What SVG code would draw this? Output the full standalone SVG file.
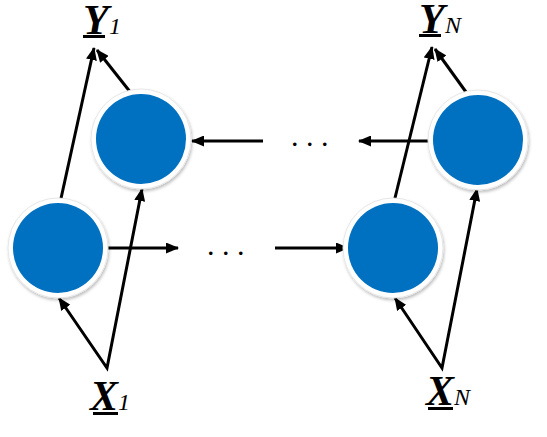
<svg xmlns="http://www.w3.org/2000/svg" width="547" height="437" viewBox="0 0 547 437">
<style>
.ring{fill:#ffffff;stroke:#e6e6e6;stroke-width:1;filter:url(#sh)}
.core{fill:#0070C0}
.ln{stroke:#000;stroke-width:3;fill:none;stroke-linejoin:miter}
.main{font-family:"Liberation Serif",serif;font-style:italic;font-weight:bold;font-size:42px;fill:#000}
.sub{font-family:"Liberation Serif",serif;font-style:italic;font-size:24px;fill:#000}
.dots{font-family:"Liberation Serif",serif;font-size:30px;fill:#000}
</style>
<defs>
<filter id="sh" x="-20%" y="-20%" width="140%" height="140%">
<feDropShadow dx="1" dy="2" stdDeviation="1.5" flood-color="#000" flood-opacity="0.25"/>
</filter>
<marker id="ah" viewBox="0 0 13 11" refX="12" refY="5.5" markerWidth="13" markerHeight="11" markerUnits="userSpaceOnUse" orient="auto-start-reverse">
<path d="M0,0 L13,5.5 L0,11 z" fill="#000"/>
</marker>
</defs>
<g id="connectors">
<line class="ln" x1="60" y1="203" x2="94" y2="48" marker-end="url(#ah)"/>
<line class="ln" x1="131" y1="93" x2="97" y2="50" marker-end="url(#ah)"/>
<line class="ln" x1="394" y1="202" x2="432" y2="47" marker-end="url(#ah)"/>
<line class="ln" x1="466" y1="92" x2="435" y2="49" marker-end="url(#ah)"/>
<line class="ln" x1="107" y1="248" x2="178" y2="248" marker-end="url(#ah)"/>
<line class="ln" x1="275" y1="248" x2="348" y2="248" marker-end="url(#ah)"/>
<line class="ln" x1="263" y1="141" x2="192" y2="141" marker-end="url(#ah)"/>
<line class="ln" x1="430" y1="141" x2="359" y2="141" marker-end="url(#ah)"/>
<polyline class="ln" points="59,298 107,368 142,189" marker-start="url(#ah)" marker-end="url(#ah)"/>
<polyline class="ln" points="395,298 442,368 477,189" marker-start="url(#ah)" marker-end="url(#ah)"/>
<text class="dots" x="291" y="146">. . .</text>
<text class="dots" x="207" y="255">. . .</text>
</g>
<g id="node-bl"><circle class="ring" cx="58" cy="248" r="50"/><circle class="core" cx="58" cy="248" r="45"/></g>
<g id="node-tl"><circle class="ring" cx="141" cy="139" r="50"/><circle class="core" cx="141" cy="139" r="45"/></g>
<g id="node-br"><circle class="ring" cx="393" cy="248" r="50"/><circle class="core" cx="393" cy="248" r="45"/></g>
<g id="node-tr"><circle class="ring" cx="478" cy="140" r="50"/><circle class="core" cx="478" cy="140" r="45"/></g>
<g id="label-y1"><text class="main" x="83" y="34">Y</text><text class="sub" x="109" y="34">1</text><rect x="83" y="35" width="22" height="3" fill="#000"/></g>
<g id="label-yn"><text class="main" x="419" y="33">Y</text><text class="sub" x="445" y="33">N</text><rect x="419" y="34" width="22" height="3" fill="#000"/></g>
<g id="label-x1"><text class="main" x="90" y="410">X</text><text class="sub" x="118" y="410">1</text><rect x="93" y="412" width="25" height="3" fill="#000"/></g>
<g id="label-xn"><text class="main" x="426" y="405">X</text><text class="sub" x="454" y="405">N</text><rect x="428" y="407" width="25" height="3" fill="#000"/></g>
</svg>
